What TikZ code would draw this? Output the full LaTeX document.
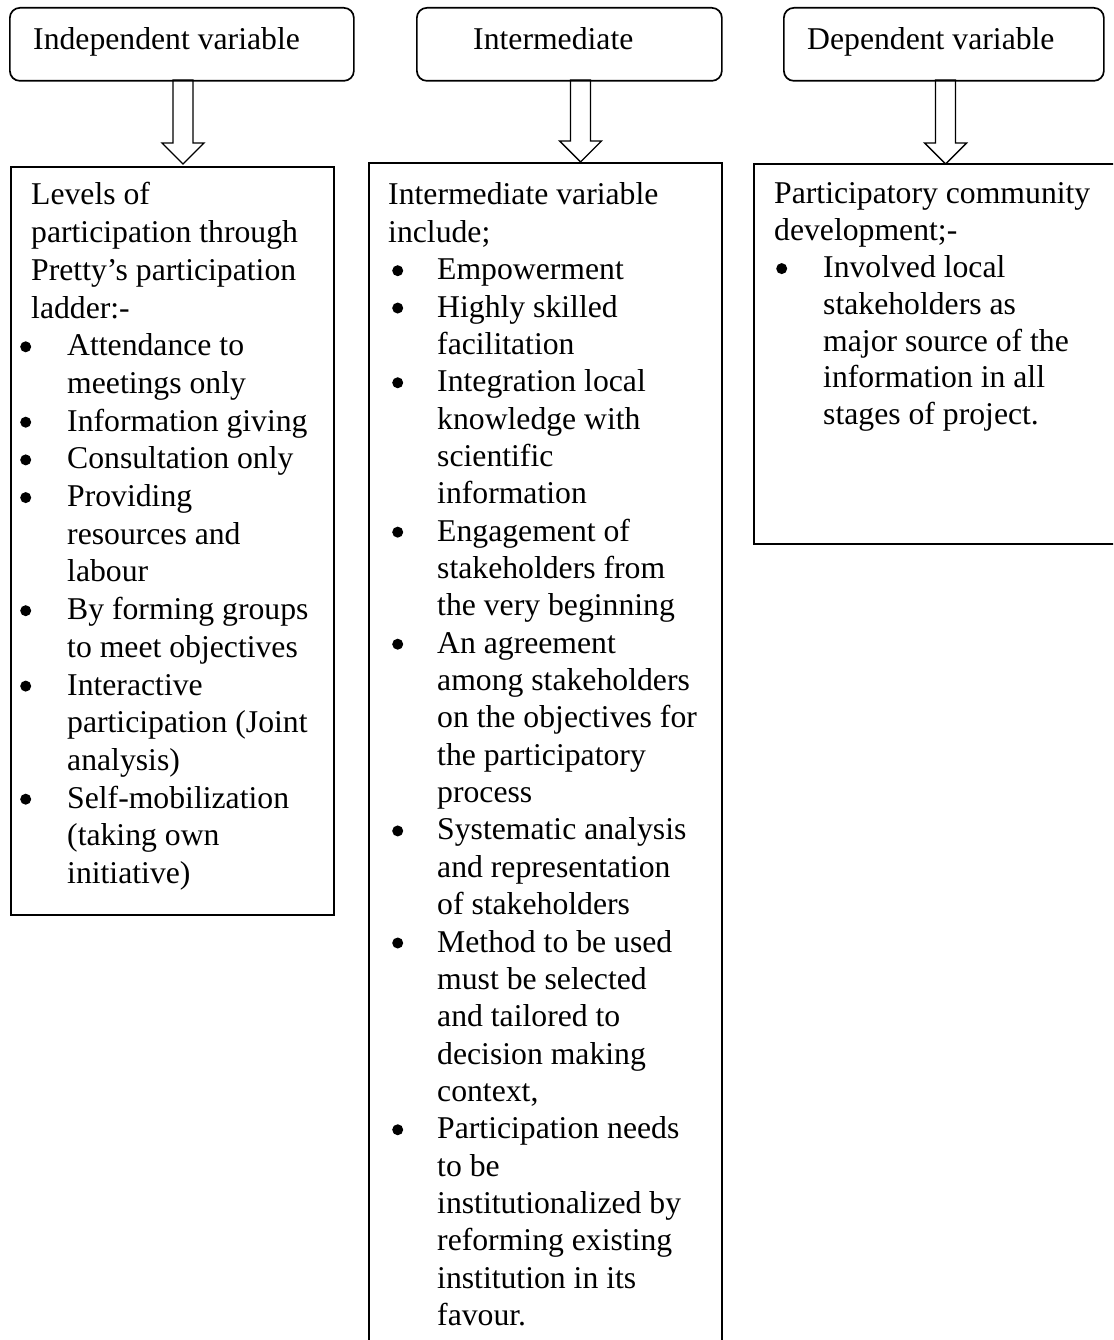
\documentclass[tikz,border=0pt]{standalone}
\usepackage{fontspec}
\setmainfont{Liberation Serif}
\usetikzlibrary{calc}
\newlength\bulx
\newlength\itmx
\newcommand\bdot{\raisebox{3.5pt}{\tikz\fill[black] (0,0) circle (5.5pt);}}
\newcommand\bitem{\makebox[0pt][l]{\hspace*{\bulx}\bdot}\hspace*{\itmx}}
\newcommand\cont{\hspace*{\itmx}}
\newcommand\blockarrow[2]{\draw[arr] ($(#1)+(-10,0)$) -- ($(#2)+(-10,-21)$) -- ($(#2)+(-21,-21)$) -- (#2) -- ($(#2)+(21,-21)$) -- ($(#2)+(10,-21)$) -- ($(#1)+(10,0)$) -- cycle;}
\tikzset{
  rbox/.style={draw, line width=1.7pt, rounded corners=10pt, anchor=north west, inner sep=0pt},
  sbox/.style={draw, line width=1.7pt, anchor=north west, inner sep=0pt},
  lab/.style={anchor=base west, inner sep=0pt, font=\fontsize{31.7}{37.4}\selectfont},
  arr/.style={line width=1.4pt, draw=black},
}
\begin{document}
\begin{tikzpicture}[x=1pt,y=-1pt]
\clip (0,0) rectangle (1113,1340);
\fill[white] (0,0) rectangle (1113,1340);
% block arrows
\coordinate (a1s) at (183,80);
\coordinate (a1e) at (183,164);
\coordinate (a2s) at (580.5,80);
\coordinate (a2e) at (580.5,162);
\coordinate (a3s) at (945.5,80);
\coordinate (a3e) at (945.5,164);
\blockarrow{a1s}{a1e}
\blockarrow{a2s}{a2e}
\blockarrow{a3s}{a3e}
% top boxes
\node[rbox, minimum width=344pt, minimum height=73pt] (t1) at (9,7) {};
\node[rbox, minimum width=305pt, minimum height=73pt] (t2) at (416,7) {};
\node[rbox, minimum width=320pt, minimum height=73pt] (t3) at (783,7) {};
\node[lab] (t1l) at (33,50) {Independent variable};
\node[lab] (t2l) at (473,50) {Intermediate};
\node[lab] (t3l) at (807,50) {Dependent variable};
% content boxes
\node[sbox, minimum width=323pt, minimum height=748pt] (b1) at (10,166) {};
\node[sbox, minimum width=353pt, minimum height=1250pt] (b2) at (368,162) {};
\node[sbox, minimum width=380pt, minimum height=380pt] (b3) at (753,163) {};
\node[lab] (b1l) at (31,205) {\parbox[t]{320pt}{\setlength\bulx{-11pt}\setlength\itmx{36pt}\setlength\baselineskip{37.7pt}%
Levels of\\
participation through\\
Pretty’s participation\\
ladder:-\\
\bitem Attendance to\\
\cont meetings only\\
\bitem Information giving\\
\bitem Consultation only\\
\bitem Providing\\
\cont resources and\\
\cont labour\\
\bitem By forming groups\\
\cont to meet objectives\\
\bitem Interactive\\
\cont participation (Joint\\
\cont analysis)\\
\bitem Self-mobilization\\
\cont (taking own\\
\cont initiative)}};
\node[lab] (b2l) at (388,205) {\parbox[t]{340pt}{\setlength\bulx{4pt}\setlength\itmx{49pt}\setlength\baselineskip{37.35pt}%
Intermediate variable\\
include;\\
\bitem Empowerment\\
\bitem Highly skilled\\
\cont facilitation\\
\bitem Integration local\\
\cont knowledge with\\
\cont scientific\\
\cont information\\
\bitem Engagement of\\
\cont stakeholders from\\
\cont the very beginning\\
\bitem An agreement\\
\cont among stakeholders\\
\cont on the objectives for\\
\cont the participatory\\
\cont process\\
\bitem Systematic analysis\\
\cont and representation\\
\cont of stakeholders\\
\bitem Method to be used\\
\cont must be selected\\
\cont and tailored to\\
\cont decision making\\
\cont context,\\
\bitem Participation needs\\
\cont to be\\
\cont institutionalized by\\
\cont reforming existing\\
\cont institution in its\\
\cont favour.}};
\node[lab] (b3l) at (774,204) {\parbox[t]{340pt}{\setlength\bulx{2pt}\setlength\itmx{49pt}\setlength\baselineskip{36.8pt}%
Participatory community\\
development;-\\
\bitem Involved local\\
\cont stakeholders as\\
\cont major source of the\\
\cont information in all\\
\cont stages of project.}};
\end{tikzpicture}
\end{document}
